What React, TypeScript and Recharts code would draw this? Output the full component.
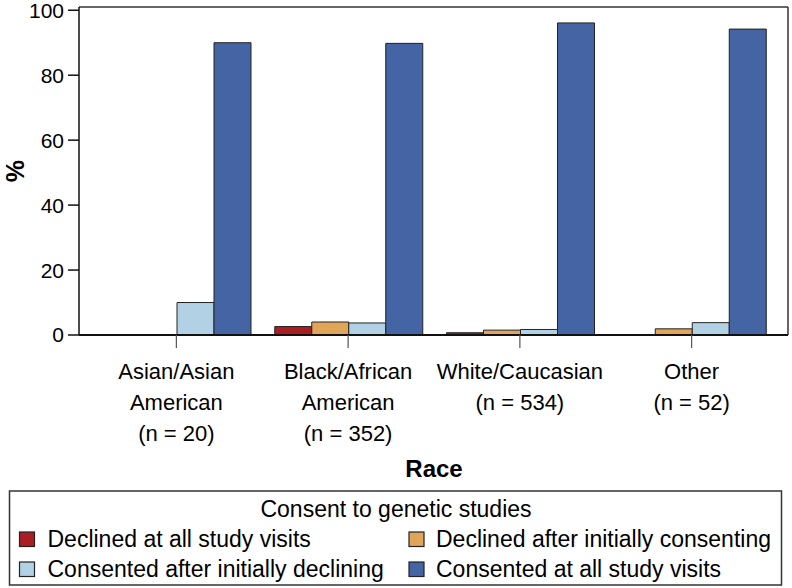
import React from 'react';
import { BarChart, Bar, XAxis, YAxis, CartesianGrid } from 'recharts';

const categories = ['Asian/Asian American', 'Black/African American', 'White/Caucasian', 'Other'];
const categoryLines = [
  ['Asian/Asian', 'American', '(n = 20)'],
  ['Black/African', 'American', '(n = 352)'],
  ['White/Caucasian', '(n = 534)'],
  ['Other', '(n = 52)'],
];
const declinedAll = [0, 2.6, 0.7, 0];
const declinedAfter = [0, 4.0, 1.5, 1.9];
const consentedAfter = [10, 3.7, 1.7, 3.8];
const consentedAll = [90, 89.8, 96.1, 94.2];
const yTicks = [0, 20, 40, 60, 80, 100];

const seriesNames = [
  'Declined at all study visits',
  'Declined after initially consenting',
  'Consented after initially declining',
  'Consented at all study visits',
];
const seriesKeys = ['declinedAll', 'declinedAfter', 'consentedAfter', 'consentedAll'];
const seriesColors = ['#A81E23', '#E1A55A', '#B3D1E5', '#4564A3'];

const data = categories.map((name, i) => ({
  name,
  declinedAll: declinedAll[i],
  declinedAfter: declinedAfter[i],
  consentedAfter: consentedAfter[i],
  consentedAll: consentedAll[i],
}));

const FONT = '"Liberation Sans", Arial, Helvetica, sans-serif';

const XTick = (props: any) => {
  const { x, y, payload } = props;
  const idx = categories.indexOf(payload.value);
  const lines = categoryLines[idx] || [payload.value];
  return (
    <text x={x} y={y} textAnchor="middle" fontSize={22} fill="#000" fontFamily={FONT}>
      {lines.map((l, i) => (
        <tspan key={i} x={x} dy={31}>
          {l}
        </tspan>
      ))}
    </text>
  );
};

export default function App() {
  return (
    <div style={{ position: 'absolute', left: 0, top: 0, width: 792, height: 588, background: '#fff' }}>
      <BarChart
        width={792}
        height={588}
        data={data}
        margin={{ top: 7, right: 4, left: 0, bottom: 0 }}
        barGap={0}
        barCategoryGap={12.5}
        style={{ fontFamily: FONT }}
      >
        <CartesianGrid
          stroke="#333"
          strokeWidth={1.5}
          horizontalCoordinatesGenerator={(p: any) => [p.offset.top]}
          verticalCoordinatesGenerator={(p: any) => [p.offset.left + p.offset.width]}
          syncWithTicks={false}
        />
        <XAxis
          dataKey="name"
          height={253}
          padding={{ left: 11.5, right: 10.5 }}
          tick={<XTick />}
          tickSize={13}
          tickMargin={0}
          interval={0}
          tickLine={{ stroke: '#555', strokeWidth: 1.2 }}
          axisLine={{ stroke: '#111', strokeWidth: 2 }}
          label={{
            content: () => (
              <text x={434} y={477} textAnchor="middle" fontSize={24} fontWeight="bold" fill="#000" fontFamily={FONT}>
                Race
              </text>
            ),
          }}
        />
        <YAxis
          width={79}
          domain={[0, 101]}
          ticks={yTicks}
          interval={0}
          tick={{ fontSize: 21, fill: '#000', fontFamily: FONT }}
          tickSize={11}
          tickMargin={4}
          tickLine={{ stroke: '#111', strokeWidth: 1.5 }}
          axisLine={{ stroke: '#111', strokeWidth: 1.5 }}
          label={{
            content: () => (
              <text
                x={24}
                y={171}
                textAnchor="middle"
                fontSize={25}
                fontWeight="bold"
                fill="#000"
                fontFamily={FONT}
                transform="rotate(-90, 24, 171)"
              >
                %
              </text>
            ),
          }}
        />
        {seriesKeys.map((k, i) => (
          <Bar
            key={k}
            dataKey={k}
            name={seriesNames[i]}
            fill={seriesColors[i]}
            stroke="#222"
            strokeWidth={1}
            isAnimationActive={false}
          />
        ))}
      </BarChart>
      <svg
        width={792}
        height={588}
        style={{ position: 'absolute', left: 0, top: 0, pointerEvents: 'none' }}
        fontFamily={FONT}
      >
        <rect x={9.5} y={491} width={772} height={94} fill="none" stroke="#333" strokeWidth={1.5} />
        <text x={396} y={517} textAnchor="middle" fontSize={23} fill="#000">
          Consent to genetic studies
        </text>
        {seriesNames.map((n, i) => {
          const col = i % 2;
          const row = Math.floor(i / 2);
          const sx = col === 0 ? 19.5 : 409;
          const tx = col === 0 ? 47.5 : 436;
          const by = 547 + row * 30;
          return (
            <g key={n}>
              <rect x={sx} y={by - 15} width={15} height={14.5} fill={seriesColors[i]} stroke="#222" strokeWidth={1.2} />
              <text x={tx} y={by} fontSize={23} fill="#000">
                {n}
              </text>
            </g>
          );
        })}
      </svg>
    </div>
  );
}
